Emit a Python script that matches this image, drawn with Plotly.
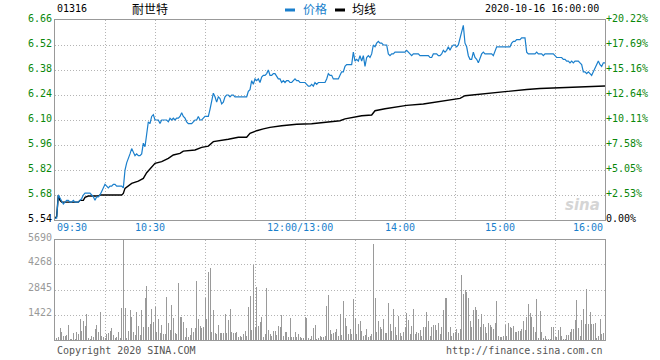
import plotly.graph_objects as go

# ---------------- data ----------------
stock_code = "01316"
stock_name = "耐世特"
stamp = "2020-10-16 16:00:00"
prev_close = 5.54

time_labels = ["09:30", "10:30", "12:00/13:00", "14:00", "15:00", "16:00"]
time_label_minutes = [0, 60, 150, 210, 270, 330]

price_ticks = [5.54, 5.68, 5.82, 5.96, 6.10, 6.24, 6.38, 6.52, 6.66]
pct_labels = ["0.00%", "+2.53%", "+5.05%", "+7.58%", "+10.11%", "+12.64%", "+15.16%", "+17.69%", "+20.22%"]
vol_ticks = [1422, 2845, 4268, 5690]

# minute-by-minute price, minute 0 = 09:30, minute 330 = 16:00 (lunch break removed)
price = [
    5.55, 5.55, 5.68, 5.66, 5.64, 5.63, 5.64, 5.65, 5.65, 5.64,
    5.64, 5.65, 5.64, 5.64, 5.64, 5.65, 5.66, 5.68, 5.69, 5.69,
    5.69, 5.69, 5.68, 5.67, 5.65, 5.67, 5.67, 5.68, 5.70, 5.72,
    5.74, 5.73, 5.72, 5.73, 5.73, 5.74, 5.74, 5.73, 5.73, 5.73,
    5.73, 5.72, 5.82, 5.86, 5.88, 5.91, 5.94, 5.92, 5.90, 5.91,
    5.90, 5.90, 5.91, 5.97, 5.95, 6.02, 6.09, 6.08, 6.12, 6.13,
    6.10, 6.10, 6.10, 6.08, 6.10, 6.10, 6.10, 6.10, 6.09, 6.11,
    6.10, 6.11, 6.10, 6.11, 6.11, 6.12, 6.14, 6.12, 6.11, 6.09,
    6.08, 6.08, 6.08, 6.09, 6.10, 6.10, 6.12, 6.10, 6.10, 6.11,
    6.12, 6.12, 6.12, 6.16, 6.21, 6.25, 6.23, 6.20, 6.23, 6.22,
    6.19, 6.20, 6.23, 6.24, 6.24, 6.23, 6.24, 6.24, 6.23, 6.23,
    6.23, 6.23, 6.23, 6.23, 6.23, 6.23, 6.26, 6.27, 6.32, 6.30,
    6.33, 6.32, 6.33, 6.31, 6.34, 6.35, 6.35, 6.36, 6.38, 6.35,
    6.35, 6.36, 6.36, 6.34, 6.33, 6.33, 6.31, 6.32, 6.31, 6.32,
    6.32, 6.31, 6.31, 6.32, 6.33, 6.32, 6.32, 6.31, 6.31, 6.31,
    6.31, 6.30, 6.29, 6.29, 6.30, 6.29, 6.31, 6.30, 6.31, 6.31,
    6.31, 6.31, 6.31, 6.33, 6.36, 6.35, 6.35, 6.33, 6.33, 6.33,
    6.33, 6.35, 6.37, 6.37, 6.40, 6.41, 6.41, 6.41, 6.41, 6.48,
    6.43, 6.44, 6.43, 6.46, 6.43, 6.46, 6.40, 6.45, 6.46, 6.45,
    6.47, 6.52, 6.51, 6.53, 6.54, 6.53, 6.53, 6.52, 6.52, 6.52,
    6.47, 6.46, 6.47, 6.47, 6.48, 6.48, 6.48, 6.48, 6.48, 6.48,
    6.48, 6.49, 6.48, 6.47, 6.46, 6.47, 6.47, 6.47, 6.47, 6.46,
    6.46, 6.46, 6.46, 6.46, 6.46, 6.45, 6.45, 6.47, 6.47, 6.47,
    6.46, 6.46, 6.47, 6.49, 6.48, 6.49, 6.51, 6.49, 6.51, 6.52,
    6.52, 6.51, 6.52, 6.56, 6.59, 6.63, 6.53, 6.51, 6.46, 6.44,
    6.44, 6.48, 6.45, 6.44, 6.42, 6.45, 6.47, 6.48, 6.47, 6.47,
    6.47, 6.47, 6.47, 6.46, 6.49, 6.51, 6.51, 6.51, 6.51, 6.51,
    6.51, 6.51, 6.51, 6.51, 6.53, 6.54, 6.54, 6.55, 6.55, 6.55,
    6.56, 6.56, 6.56, 6.48, 6.47, 6.47, 6.47, 6.47, 6.47, 6.48,
    6.47, 6.47, 6.47, 6.46, 6.47, 6.47, 6.47, 6.47, 6.47, 6.47,
    6.46, 6.45, 6.45, 6.45, 6.45, 6.44, 6.44, 6.43, 6.43, 6.42,
    6.43, 6.42, 6.43, 6.43, 6.43, 6.42, 6.41, 6.37, 6.37, 6.36,
    6.37, 6.36, 6.35, 6.37, 6.39, 6.41, 6.43, 6.41, 6.40, 6.42,
    6.42,
]

# average price line (read at its turning points)
avg_minutes = [0, 1, 2, 3, 4, 14, 15, 17, 18, 20, 26, 27, 40, 41, 42, 46, 50, 53, 55, 58,
               60, 64, 68, 71, 75, 77, 84, 88, 92, 95, 100, 104, 110, 115, 117, 121, 125, 129,
               136, 145, 154, 163, 171, 174, 179, 184, 190, 192, 198, 204, 211, 221, 231, 243,
               246, 259, 271, 283, 291, 309, 323, 330]
avg_price = [5.55, 5.56, 5.68, 5.65, 5.64, 5.64, 5.65, 5.65, 5.667, 5.674, 5.674, 5.68, 5.68,
             5.689, 5.717, 5.745, 5.758, 5.773, 5.805, 5.833, 5.857, 5.867, 5.885, 5.904, 5.913,
             5.926, 5.932, 5.947, 5.954, 5.979, 5.984, 5.992, 6.003, 6.003, 6.025, 6.04, 6.05,
             6.059, 6.068, 6.076, 6.079, 6.09, 6.096, 6.106, 6.115, 6.124, 6.128, 6.152, 6.163,
             6.171, 6.182, 6.19, 6.203, 6.221, 6.236, 6.249, 6.258, 6.271, 6.276, 6.283, 6.287,
             6.29]

volume = [
    10, 95, 190, 702, 474, 228, 228, 285, 854, 38,
    38, 417, 38, 474, 341, 1195, 531, 1100, 797, 1480,
    95, 38, 228, 190, 607, 854, 474, 1612, 228, 152,
    95, 341, 379, 531, 702, 285, 95, 152, 474, 95,
    1802, 5690, 1802, 95, 531, 1707, 1328, 474, 285, 1612,
    797, 285, 1707, 759, 2371, 3073, 759, 911, 1764, 1043,
    1897, 474, 1176, 379, 854, 341, 341, 2466, 986, 569,
    1992, 1233, 379, 341, 3225, 1290, 1290, 1043, 152, 702,
    152, 285, 702, 474, 664, 3377, 1176, 797, 664, 759,
    2371, 1176, 3889, 4079, 474, 1707, 417, 341, 854, 417,
    379, 417, 1480, 379, 1138, 1783, 474, 379, 379, 474,
    152, 228, 190, 341, 531, 228, 1897, 2504, 569, 4268,
    759, 3035, 797, 1043, 1290, 152, 341, 2940, 569, 341,
    228, 531, 531, 285, 797, 759, 1423, 228, 474, 474,
    190, 1233, 152, 152, 474, 152, 341, 190, 95, 95,
    1290, 1233, 95, 38, 228, 664, 854, 38, 95, 228,
    190, 152, 228, 1935, 2561,
    569, 341, 417, 474, 607, 228, 1480, 285, 2238,
    1233, 797, 341, 607, 341, 2314, 1233, 341, 911, 1081,
    531, 228, 285, 607, 190, 228, 341, 5463, 2371, 474,
    1100, 759, 607, 1176, 417, 417, 2087, 911, 531, 1764,
    759, 285, 1366, 379, 228, 474, 721, 1556, 1138, 341,
    797, 1745, 341, 474, 417, 569, 228, 759, 721, 1612,
    1100, 228, 759, 854, 854, 569, 949, 341, 759, 1707,
    2371, 2371, 474, 759, 228, 417, 474, 607, 417, 607,
    3699, 2618, 2846, 2751, 2371, 1100, 759, 1707, 1859, 1707,
    1176, 721, 1480, 911, 721, 417, 949, 854, 721, 607,
    949, 2238, 228, 152, 152, 228, 854, 228, 949, 759,
    664, 797, 474, 474, 531, 531, 607, 1100, 569, 1290,
    2049, 1556, 1328, 759, 474, 2333, 133, 1669, 474, 95,
    228, 38, 38, 38, 759, 721, 152, 152, 569, 721,
    228, 38, 38, 285, 285, 474, 607, 607, 1138, 2276,
    664, 228, 1138, 1745, 911, 2883, 911, 1612, 911, 911,
    949, 95, 228, 1176, 341, 417, 569,
]
minutes = list(range(len(price)))
vol_minutes = list(range(len(volume)))

# ---------------- styles ----------------
BLUE = "#1a7fcc"
GREEN = "#0a870a"
GRID = "#b4b4b4"
FRAME = "#999999"
MONO = "DejaVu Sans Mono, Liberation Mono, monospace"
W, H = 660, 360
L, R, T, B = 55, 55, 20, 20
PW, PH = W - L - R, H - T - B


def px(x):
    return (x - L) / PW


def py(y):
    return (H - B - y) / PH


fig = go.Figure()

fig.add_trace(go.Bar(x=vol_minutes, y=volume, marker=dict(color="#9a9a9a", line=dict(width=0)),
                     width=0.6, xaxis="x2", yaxis="y3", hoverinfo="skip"))
fig.add_trace(go.Scatter(x=avg_minutes, y=avg_price, mode="lines",
                         line=dict(color="#000000", width=1.4), xaxis="x", yaxis="y", hoverinfo="skip"))
fig.add_trace(go.Scatter(x=minutes, y=price, mode="lines",
                         line=dict(color=BLUE, width=1.2), xaxis="x", yaxis="y", hoverinfo="skip"))
# invisible trace to activate right axis
fig.add_trace(go.Scatter(x=[0], y=[prev_close], mode="markers", marker=dict(opacity=0),
                         xaxis="x", yaxis="y2", hoverinfo="skip"))

grid_minutes = list(range(30, 330, 30))
xcommon = dict(range=[0, 330], tickvals=grid_minutes, showticklabels=False, ticks="",
               showgrid=True, gridcolor=GRID, griddash="1px,2px", gridwidth=1,
               showline=True, linecolor=FRAME, linewidth=1, mirror=True, zeroline=False, fixedrange=True)

price_ticktext = []
for v in price_ticks:
    if abs(v - prev_close) < 1e-9:
        price_ticktext.append("<span style='color:#000000'>%.2f</span>" % v)
    else:
        price_ticktext.append("%.2f" % v)
pct_ticktext = []
for t in pct_labels:
    if t == "0.00%":
        pct_ticktext.append("<span style='color:#000000'>%s</span>" % t)
    else:
        pct_ticktext.append(t)

fig.update_layout(
    width=W, height=H, margin=dict(l=L, r=R, t=T, b=B, autoexpand=False),
    paper_bgcolor="white", plot_bgcolor="white", showlegend=False,
    font=dict(family=MONO, size=10, color="#000000"),
    xaxis=dict(domain=[0, 1], anchor="y", **xcommon),
    xaxis2=dict(domain=[0, 1], anchor="y3", **xcommon),
    yaxis=dict(domain=[py(220), 1], range=[price_ticks[0], price_ticks[-1]], tickvals=price_ticks,
               ticktext=price_ticktext, tickfont=dict(color=GREEN, family=MONO, size=10),
               ticklabelshift=-2,
               showgrid=True, gridcolor=GRID, griddash="1px,2px", ticks="", zeroline=False,
               showline=True, linecolor=FRAME, mirror=True, fixedrange=True),
    yaxis2=dict(domain=[py(220), 1], overlaying="y", side="right", anchor="x",
                range=[price_ticks[0], price_ticks[-1]], tickvals=price_ticks, ticktext=pct_ticktext,
                tickfont=dict(color=GREEN, family=MONO, size=10), ticklabelshift=-2,
                showgrid=False, ticks="", zeroline=False, fixedrange=True),
    yaxis3=dict(domain=[0, py(240)], range=[0, vol_ticks[-1]], tickvals=vol_ticks,
                tickfont=dict(color="#999999", family=MONO, size=10), ticklabelshift=-3,
                showgrid=True, gridcolor=GRID, griddash="1px,2px", ticks="", zeroline=False,
                showline=True, linecolor=FRAME, mirror=True, anchor="x2", fixedrange=True),
    bargap=0,
)

ann = []
# time labels
for lab, m in zip(time_labels, time_label_minutes):
    if m == 0:
        xa, xs = "left", 0
    elif m == 330:
        xa, xs = "right", 0
    else:
        xa, xs = "center", -5
    ann.append(dict(x=m, y=py(227), xref="x", yref="paper", text=lab, showarrow=False,
                    xanchor=xa, yanchor="middle", xshift=xs,
                    font=dict(color=BLUE, family=MONO, size=10)))
# header
ann.append(dict(x=px(55), y=py(9), xref="paper", yref="paper", text=stock_code, showarrow=False,
                xanchor="left", yanchor="middle", font=dict(family=MONO, size=10, color="#000")))
ann.append(dict(x=px(130), y=py(9), xref="paper", yref="paper", text=stock_name, showarrow=False,
                xanchor="left", yanchor="middle", font=dict(family="Noto Sans CJK SC", size=12, color="#000")))
ann.append(dict(x=px(301), y=py(9), xref="paper", yref="paper", text="价格", showarrow=False,
                xanchor="left", yanchor="middle", font=dict(family="Noto Sans CJK SC", size=12, color=BLUE)))
ann.append(dict(x=px(350), y=py(9), xref="paper", yref="paper", text="均线", showarrow=False,
                xanchor="left", yanchor="middle", font=dict(family="Noto Sans CJK SC", size=12, color="#000")))
ann.append(dict(x=px(601), y=py(9), xref="paper", yref="paper", text=stamp, showarrow=False,
                xanchor="right", yanchor="middle", font=dict(family=MONO, size=10, color="#000")))
# footer
ann.append(dict(x=px(55), y=py(350), xref="paper", yref="paper", text="Copyright 2020 SINA.COM",
                showarrow=False, xanchor="left", yanchor="middle", font=dict(family=MONO, size=10, color="#555")))
ann.append(dict(x=px(605), y=py(350), xref="paper", yref="paper", text="http://finance.sina.com.cn",
                showarrow=False, xanchor="right", yanchor="middle", font=dict(family=MONO, size=10, color="#555")))
# watermark
ann.append(dict(x=px(602), y=py(205), xref="paper", yref="paper", text="<i><b>sina</b></i>",
                showarrow=False, xanchor="right", yanchor="middle", opacity=0.35,
                font=dict(family="DejaVu Sans", size=15, color="#888888")))
fig.update_layout(annotations=ann)

shapes = [
    dict(type="rect", xref="paper", yref="paper", x0=px(285), x1=px(295), y0=py(11.5), y1=py(8.5),
         fillcolor=BLUE, line=dict(width=0)),
    dict(type="rect", xref="paper", yref="paper", x0=px(335), x1=px(345), y0=py(11.5), y1=py(8.5),
         fillcolor="#000000", line=dict(width=0)),
]
fig.update_layout(shapes=shapes)

fig.write_html("out.html", config={"displayModeBar": False, "staticPlot": True},
               post_script="document.body.style.margin='0';document.body.style.padding='0';")
